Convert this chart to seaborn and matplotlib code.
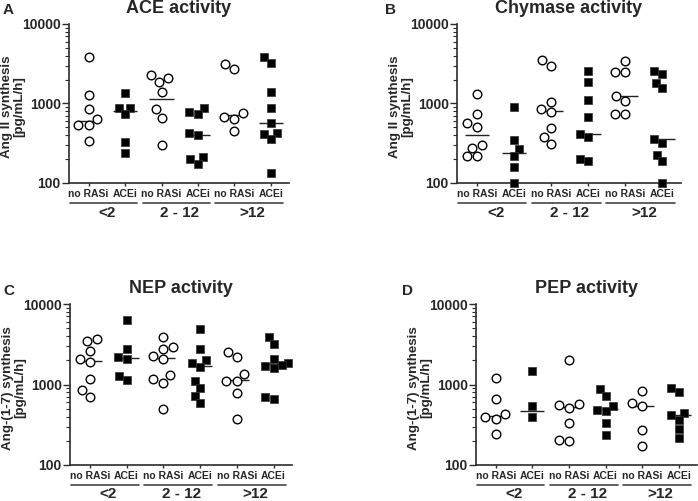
import numpy as np
import pandas as pd
import matplotlib
matplotlib.use("Agg")
import matplotlib.pyplot as plt
import matplotlib.ticker as mticker
import seaborn as sns

groups = ["<2", "2 - 12", ">12"]
treatments = ["no RASi", "ACEi"]

ace_norasi = [[3845, 1280, 861, 638, 540, 530, 334],
              [2260, 2113, 1862, 1409, 845, 658, 298],
              [3110, 2740, 760, 676, 645, 451]]
ace_acei = [[1368, 890, 880, 731, 331, 241],
            [877, 774, 738, 430, 402, 214, 199, 175],
            [3882, 3267, 1409, 887, 569, 430, 418, 361, 134]]
ace_median_norasi = [600, 1127, 717]
ace_median_acei = [813, 398, 574]

chy_norasi = [[1316, 745, 568, 506, 303, 278, 216, 216],
              [3490, 2994, 1046, 845, 782, 492, 383, 310],
              [3459, 2466, 2466, 1230, 1086, 731, 731]]
chy_acei = [[896, 351, 265, 216, 159, 100],
            [2566, 1884, 1107, 669, 409, 375, 199, 188],
            [2540, 2350, 1827, 1553, 357, 321, 227, 188, 100]]
chy_median_norasi = [402, 797, 1230]
chy_median_acei = [241, 409, 361]

nep_norasi = [[3706, 3467, 2630, 2054, 1884, 1170, 855, 700],
              [3855, 2950, 2760, 2279, 2074, 1312, 1160, 1055, 497],
              [2512, 2199, 1366, 1117, 1117, 792, 372]]
nep_acei = [[6322, 2735, 2175, 2074, 1288, 1138],
            [4940, 2735, 2014, 1832, 1667, 1093, 896, 727, 594],
            [3855, 3155, 2094, 1832, 1760, 1700, 1620, 707, 661]]
nep_median_norasi = [1977, 2114, 1138]
nep_median_acei = [2155, 1683, 1800]

pep_norasi = [[1205, 654, 426, 394, 376, 245],
              [1995, 567, 562, 516, 333, 205, 197],
              [830, 589, 536, 270, 172]]
pep_acei = [[1458, 536, 398],
            [879, 720, 536, 487, 469, 333, 238],
            [914, 807, 443, 414, 366, 277, 214]]
pep_median_norasi = [410, 520, 536]
pep_median_acei = [469, 496, 418]

panel_letters = ["A", "B", "C", "D"]
panel_titles = ["ACE activity", "Chymase activity", "NEP activity", "PEP activity"]
panel_ylabels = ["Ang II synthesis\n[pg/mL/h]", "Ang II synthesis\n[pg/mL/h]",
                 "Ang-(1-7) synthesis\n[pg/mL/h]", "Ang-(1-7) synthesis\n[pg/mL/h]"]
y_ticks = [100, 1000, 10000]
y_ticklabels = ["100", "1000", "10000"]

sns.set_style("ticks")
plt.rcParams["font.family"] = ["Liberation Sans", "DejaVu Sans"]
plt.rcParams["font.weight"] = "bold"

W, H = 698, 501
fig = plt.figure(figsize=(W / 100, H / 100), dpi=100)

# axes boxes in pixels: left, right, top, bottom
boxes = [(69, 289, 24, 183), (457, 681, 24, 183), (70, 292, 304, 465), (476, 697, 304, 465)]
letter_pos = [(3, 14), (385, 14), (3, 295), (402, 295)]

panels = [
    (ace_norasi, ace_acei, ace_median_norasi, ace_median_acei),
    (chy_norasi, chy_acei, chy_median_norasi, chy_median_acei),
    (nep_norasi, nep_acei, nep_median_norasi, nep_median_acei),
    (pep_norasi, pep_acei, pep_median_norasi, pep_median_acei),
]

order = [f"{g}|{t}" for g in groups for t in treatments]
axcol = "#2b2b2b"

for k, (norasi, acei, med_n, med_a) in enumerate(panels):
    l, r, t, b = boxes[k]
    ax = fig.add_axes([l / W, 1 - b / H, (r - l) / W, (b - t) / H])
    ax.set_yscale("log")
    ax.set_ylim(100, 10000)

    rows = []
    for gi, g in enumerate(groups):
        for v in norasi[gi]:
            rows.append({"cat": f"{g}|no RASi", "value": v, "treat": "no RASi"})
        for v in acei[gi]:
            rows.append({"cat": f"{g}|ACEi", "value": v, "treat": "ACEi"})
    df = pd.DataFrame(rows)

    sns.swarmplot(data=df[df.treat == "no RASi"], x="cat", y="value", order=order,
                  marker="o", size=6.2, color="white", edgecolor="black",
                  linewidth=1.0, ax=ax, zorder=3)
    sns.swarmplot(data=df[df.treat == "ACEi"], x="cat", y="value", order=order,
                  marker="s", size=5.6, color="black", edgecolor="#333333",
                  linewidth=0.5, ax=ax, zorder=3)
    for c in ax.collections:
        c.set_clip_on(False)

    for gi in range(3):
        ax.hlines(med_n[gi], 2 * gi - 0.33, 2 * gi + 0.33, color="#222222", lw=1.0, zorder=2)
        ax.hlines(med_a[gi], 2 * gi + 1 - 0.33, 2 * gi + 1 + 0.33, color="#222222", lw=1.0, zorder=2)

    ax.set_xlim(-0.54, 5.5)
    ax.set_xticks(range(6))
    ax.set_xticklabels([t_ for g in groups for t_ in treatments], fontsize=7.5, fontweight="bold")
    ax.set_xlabel("")
    ax.tick_params(axis="x", length=2.5, width=1.0, pad=2, color=axcol)

    ax.set_yticks(y_ticks)
    ax.set_yticklabels(y_ticklabels, fontsize=10, fontweight="bold")
    ax.yaxis.set_minor_locator(mticker.LogLocator(base=10, subs=np.arange(2, 10)))
    ax.yaxis.set_minor_formatter(mticker.NullFormatter())
    ax.tick_params(axis="y", which="major", length=5, width=1.0, pad=1, color=axcol)
    ax.tick_params(axis="y", which="minor", length=3, width=0.8, color=axcol)

    sns.despine(ax=ax)
    for s in ["left", "bottom"]:
        ax.spines[s].set_linewidth(1.2)
        ax.spines[s].set_color(axcol)

    ax.set_ylabel(panel_ylabels[k], fontsize=9.6, fontweight="bold", linespacing=1.05)
    ax.yaxis.set_label_coords(-44 / (r - l), 0.48)

    ax.set_title(panel_titles[k], fontsize=13, fontweight="bold", pad=8)

    fig.text(letter_pos[k][0] / W, 1 - letter_pos[k][1] / H, panel_letters[k],
             fontsize=11, fontweight="bold", ha="left", va="baseline")

    trans = ax.get_xaxis_transform()
    hpx = b - t
    lab_off = min(37.0, 500.5 - b)
    for gi, g in enumerate(groups):
        ax.plot([2 * gi - 0.52, 2 * gi + 1.33], [-20 / hpx, -20 / hpx], transform=trans,
                color="#444444", lw=1.2, clip_on=False)
        ax.text(2 * gi + 0.5, -lab_off / hpx, g, transform=trans, ha="center", va="bottom",
                fontsize=11, fontweight="bold")

fig.savefig("out.png", dpi=100)
